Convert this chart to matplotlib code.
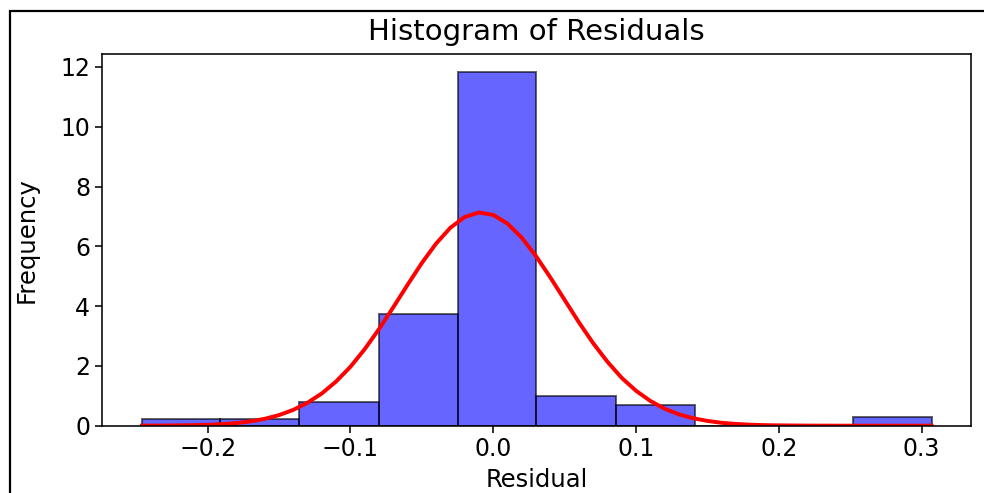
#
# Histogram of regression residuals with a fitted normal curve
#
import matplotlib.pyplot as plt
from matplotlib.patches import Rectangle

# Bin edges of the histogram (10 equal bins over the residual range)
edges = [-0.2463, -0.1910, -0.1357, -0.0803, -0.0250, 0.0303,
         0.0857, 0.1410, 0.1963, 0.2517, 0.3070]
# Bar heights (density)
heights = [0.22, 0.22, 0.80, 3.74, 11.84, 1.00, 0.68, 0.0, 0.0, 0.30]

# Normal curve
curve_x = [-0.246, -0.24, -0.23, -0.22, -0.21, -0.20, -0.19, -0.18, -0.17,
           -0.16, -0.15, -0.14, -0.13, -0.12, -0.11, -0.10, -0.09, -0.08,
           -0.07, -0.06, -0.05, -0.04, -0.03, -0.02, -0.01, 0.00, 0.01,
           0.02, 0.03, 0.04, 0.05, 0.06, 0.07, 0.08, 0.09, 0.10, 0.11,
           0.12, 0.13, 0.14, 0.15, 0.16, 0.17, 0.18, 0.19, 0.20, 0.22,
           0.24, 0.26, 0.28, 0.307]
curve_y = [0.002, 0.003, 0.005, 0.010, 0.018, 0.030, 0.052, 0.088, 0.145,
           0.23, 0.355, 0.53, 0.77, 1.08, 1.48, 1.97, 2.56, 3.23,
           3.96, 4.71, 5.44, 6.09, 6.62, 6.98, 7.13, 7.05, 6.76,
           6.29, 5.67, 4.96, 4.21, 3.46, 2.76, 2.14, 1.60, 1.17, 0.83,
           0.57, 0.38, 0.25, 0.16, 0.097, 0.058, 0.034, 0.019, 0.011, 0.003,
           0.001, 0.0, 0.0, 0.0]

s = 1.42  # the picture is a scaled-up render
plt.rcParams['font.size'] = 17
plt.rcParams['axes.linewidth'] = 0.8 * s
plt.rcParams['xtick.major.width'] = 0.8 * s
plt.rcParams['ytick.major.width'] = 0.8 * s
plt.rcParams['xtick.major.size'] = 3.5 * s
plt.rcParams['ytick.major.size'] = 3.5 * s

fig = plt.figure(figsize=(9.84, 4.93), dpi=100)
ax = fig.add_axes([0.1037, 0.1365, 0.9868 - 0.1037, 0.8905 - 0.1365])

centers = [(a + b) / 2 for a, b in zip(edges[:-1], edges[1:])]
ax.hist(centers, bins=edges, weights=heights, color='blue', alpha=0.6,
        edgecolor='black', linewidth=1.0 * s)
ax.plot(curve_x, curve_y, color='red', linewidth=2 * s)

ax.set_title('Histogram of Residuals', fontsize=21, pad=10)
ax.set_xlabel('Residual', fontsize=17.5, labelpad=5)
ax.set_ylabel('Frequency', fontsize=17.5, labelpad=16)
ax.set_yticks([0, 2, 4, 6, 8, 10, 12])
ax.set_xticks([-0.2, -0.1, 0.0, 0.1, 0.2, 0.3])
ax.tick_params(labelsize=17)

# Frame of the screenshot, cut off at right and bottom
fig.add_artist(Rectangle((0.0102, -0.2), 1.2, 0.9777 + 0.2,
                         transform=fig.transFigure, fill=False,
                         edgecolor='black', linewidth=1.6))

fig.savefig('out.png', dpi=100)
